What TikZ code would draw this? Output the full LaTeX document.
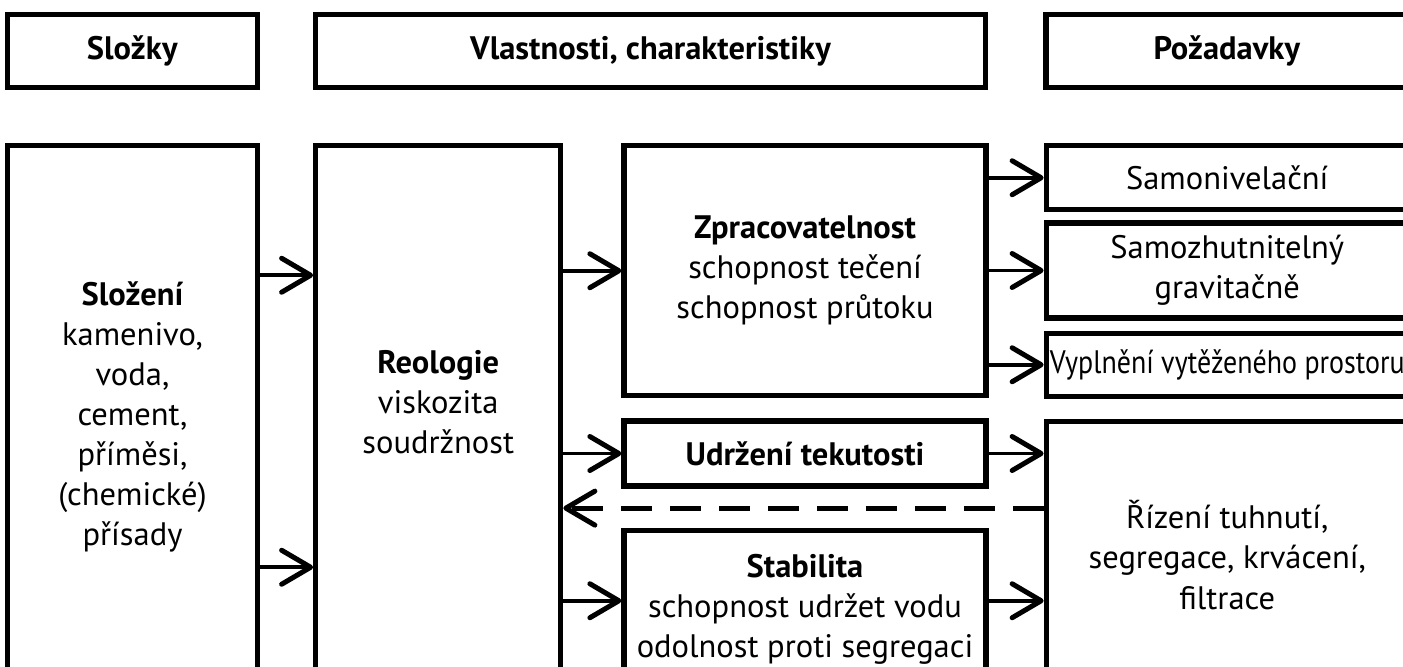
\documentclass[tikz,border=0pt]{standalone}
\usepackage{fontspec}
\setmainfont{PT Sans}
\usepackage{graphicx}
\usetikzlibrary{arrows.meta,positioning,calc}

\begin{document}
\begin{tikzpicture}[node distance=1.06cm and 1.06cm, every node/.style={font=\fontsize{18.5}{22.8}\selectfont}]
\tikzset{box/.style={draw, line width=0.105cm, align=center, inner sep=0pt}}
\tikzset{arrow/.style={-{Straight Barb[length=0.58cm, width=0.68cm, line width=0.1cm, round]}, line width=0.075cm}}
\tikzset{backarrow/.style={arrow, line width=0.1cm, dash pattern=on 0.62cm off 0.36cm}}
\useasboundingbox (0,0) rectangle (28.06,-13.34);
\clip (0,0) rectangle (28.06,-13.34);
% header row
\node[box, minimum width=5cm, minimum height=1.46cm] (slozky) at (2.65,-1.02) {\textbf{Složky}};
\node[box, right=of slozky, minimum width=13.4cm, minimum height=1.46cm] (vlast) {\textbf{Vlastnosti, charakteristiky}};
\node[box, right=1.1cm of vlast, minimum width=7.24cm, minimum height=1.46cm] (pozad) {\textbf{Požadavky}};
% main row
\node[box, below=of slozky, minimum width=5cm, minimum height=10.84cm] (slozeni) {\textbf{Složení}\\kamenivo,\\voda,\\cement,\\příměsi,\\(chemické)\\přísady};
\node[box, right=of slozeni, minimum width=4.9cm, minimum height=10.84cm] (reol) {};
\node[align=center] (reoltext) at ([yshift=0.29cm]reol.center) {\textbf{Reologie}\\viskozita\\soudržnost};
% properties
\node[box, right=1.16cm of reol.north east, anchor=north west, minimum width=7.24cm, minimum height=5cm] (zprac) {\textbf{Zpracovatelnost}\\schopnost tečení\\schopnost průtoku};
\node[box, below=0.4cm of zprac, minimum width=7.24cm, minimum height=1.3cm] (udrz) {\textbf{Udržení tekutosti}};
\node[box, below=0.78cm of udrz, minimum width=7.24cm, minimum height=3.16cm] (stab) {\textbf{Stabilita}\\schopnost udržet vodu\\odolnost proti segregaci};
% requirements
\node[box, right=1.1cm of zprac.north east, anchor=north west, minimum width=7.24cm, minimum height=1.28cm] (samo) {Samonivelační};
\node[box, below=0.16cm of samo, minimum width=7.24cm, minimum height=1.9cm] (samz) {Samozhutnitelný\\gravitačně};
\node[box, below=0.2cm of samz, minimum width=7.24cm, minimum height=1.26cm] (vypl) {\scalebox{0.86}[1]{Vyplnění vytěženého prostoru}};
\node[box, below=0.4cm of vypl, minimum width=7.24cm, minimum height=5.34cm] (riz) {Řízení tuhnutí,\\segregace, krvácení,\\filtrace};
% connections
\draw[arrow] ([yshift=2.83cm]slozeni.east) -- ([yshift=2.83cm]reol.west);
\draw[arrow] ([yshift=-3.01cm]slozeni.east) -- ([yshift=-3.01cm]reol.west);
\draw[arrow] (reol.east |- zprac.west) -- (zprac.west);
\draw[arrow] (reol.east |- udrz.west) -- (udrz.west);
\draw[arrow] ($(reol.east |- stab.west)+(0,0.17)$) -- ($(stab.west)+(0,0.17)$);
\draw[arrow] (zprac.east |- samo.west) -- (samo.west);
\draw[arrow] (zprac.east |- samz.west) -- (samz.west);
\draw[arrow] (zprac.east |- vypl.west) -- (vypl.west);
\draw[arrow] (udrz.east) -- (udrz.east -| riz.west);
\draw[arrow] ($(stab.east)+(0,0.17)$) -- ($(stab.east -| riz.west)+(0,0.17)$);
\coordinate (gap) at ($(udrz.south)!0.5!(stab.north)$);
\draw[backarrow] (riz.west |- gap) -- (reol.east |- gap);
\end{tikzpicture}
\end{document}
